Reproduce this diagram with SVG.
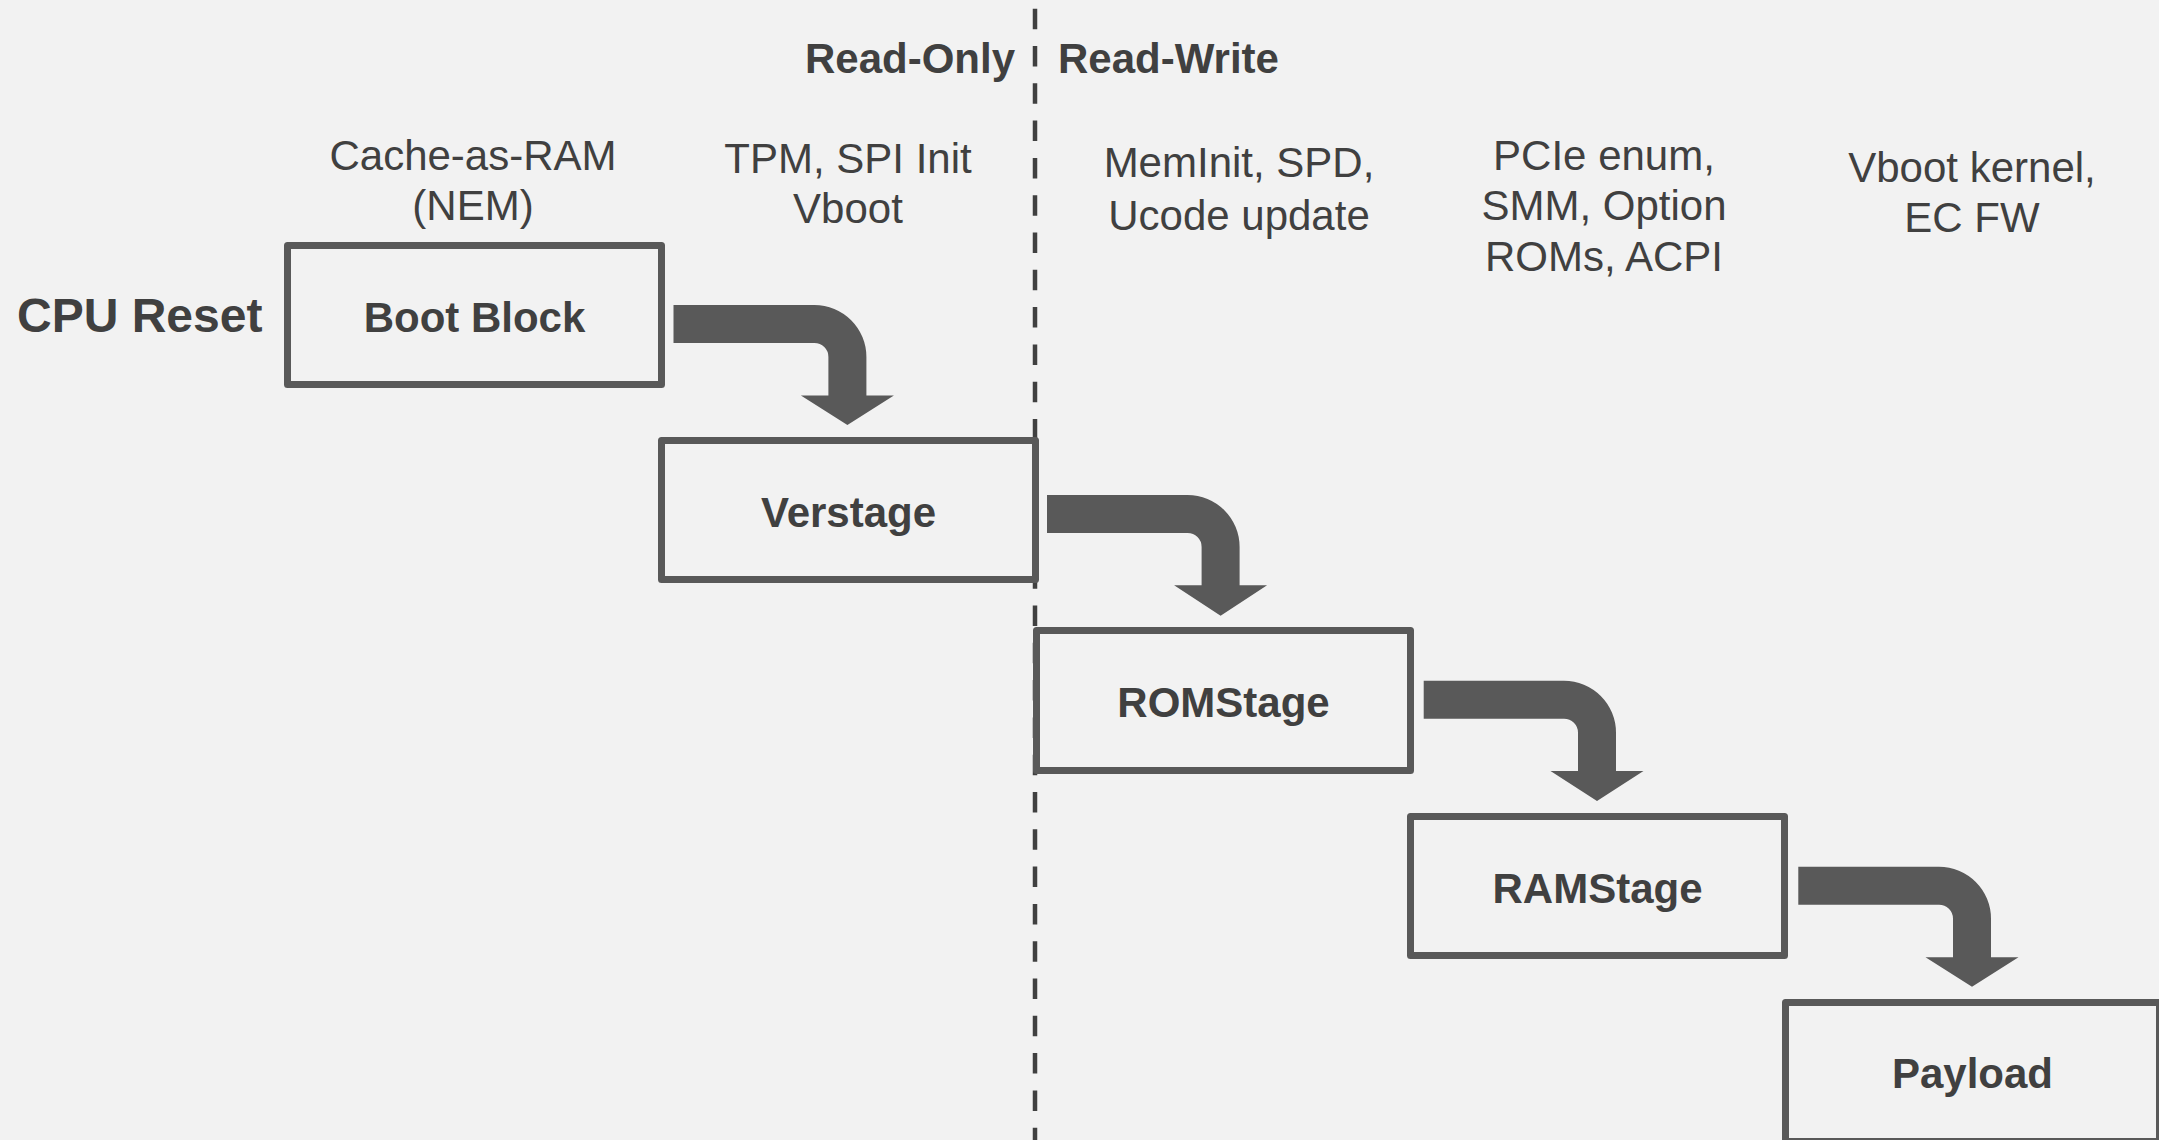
<svg xmlns="http://www.w3.org/2000/svg" width="2159" height="1140" viewBox="0 0 2159 1140">
<style>
  .bg{fill:#f2f2f2}
  .box{fill:none;stroke:#595959;stroke-width:7;stroke-linejoin:round}
  .lbl{font-family:"Liberation Sans",Arial,sans-serif;font-weight:bold;font-size:42px;fill:#404040;text-anchor:middle}
  .note{font-family:"Liberation Sans",Arial,sans-serif;font-size:42px;fill:#404040;text-anchor:middle}
  .head{font-family:"Liberation Sans",Arial,sans-serif;font-weight:bold;font-size:42px;fill:#404040}
  .arrow{fill:#595959}
  .divider{stroke:#404040;stroke-width:4.5;stroke-dasharray:20.5 16.8;fill:none}
</style>
<rect class="bg" x="0" y="0" width="2159" height="1140"/>

<g id="divider">
  <line class="divider" x1="1035" y1="8.7" x2="1035" y2="1140"/>
  <text class="head" x="1015" y="73" text-anchor="end">Read-Only</text>
  <text class="head" x="1058" y="73">Read-Write</text>
</g>

<g id="cpu-reset">
  <text class="head" x="17" y="332" style="font-size:48px">CPU Reset</text>
</g>

<g id="notes">
  <text class="note" x="473" y="170">Cache-as-RAM</text>
  <text class="note" x="473" y="220">(NEM)</text>
  <text class="note" x="848" y="173">TPM, SPI Init</text>
  <text class="note" x="848" y="223">Vboot</text>
  <text class="note" x="1239" y="177">MemInit, SPD,</text>
  <text class="note" x="1239" y="230">Ucode update</text>
  <text class="note" x="1604" y="170">PCIe enum,</text>
  <text class="note" x="1604" y="220">SMM, Option</text>
  <text class="note" x="1604" y="271">ROMs, ACPI</text>
  <text class="note" x="1972" y="182">Vboot kernel,</text>
  <text class="note" x="1972" y="232">EC FW</text>
</g>

<g id="boot-block">
  <rect class="box" x="287.5" y="245.5" width="374" height="139"/>
  <text class="lbl" x="474.5" y="331.5">Boot Block</text>
</g>
<g id="verstage">
  <rect class="box" x="661.5" y="440.5" width="374" height="139"/>
  <text class="lbl" x="848.5" y="527">Verstage</text>
</g>
<g id="romstage">
  <rect class="box" x="1036.5" y="630.5" width="374" height="140"/>
  <text class="lbl" x="1223.5" y="717">ROMStage</text>
</g>
<g id="ramstage">
  <rect class="box" x="1410.5" y="816.5" width="374" height="139"/>
  <text class="lbl" x="1597.5" y="902.5">RAMStage</text>
</g>
<g id="payload">
  <rect class="box" x="1785.5" y="1002.5" width="374" height="139"/>
  <text class="lbl" x="1972.5" y="1088">Payload</text>
</g>

<g id="connectors">
  <path class="arrow" d="M673.5,305 H814.4 A52,52 0 0 1 866.4,357 V395.5 H893.9 L847.4,425 L800.9,395.5 H828.4 V357 A14,14 0 0 0 814.4,343 H673.5 Z"/>
  <path class="arrow" d="M1047,495 H1187.6 A52,52 0 0 1 1239.6,547 V585.3 H1267.1 L1220.6,615.7 L1174.1,585.3 H1201.6 V547 A14,14 0 0 0 1187.6,533 H1047 Z"/>
  <path class="arrow" d="M1423.7,680.7 H1564 A52,52 0 0 1 1616,732.7 V771 H1643.5 L1597,801 L1550.5,771 H1578 V732.7 A14,14 0 0 0 1564,718.7 H1423.7 Z"/>
  <path class="arrow" d="M1798.3,866.7 H1939 A52,52 0 0 1 1991,918.7 V957.3 H2018.5 L1972,986.7 L1925.5,957.3 H1953 V918.7 A14,14 0 0 0 1939,904.7 H1798.3 Z"/>
</g>
</svg>
